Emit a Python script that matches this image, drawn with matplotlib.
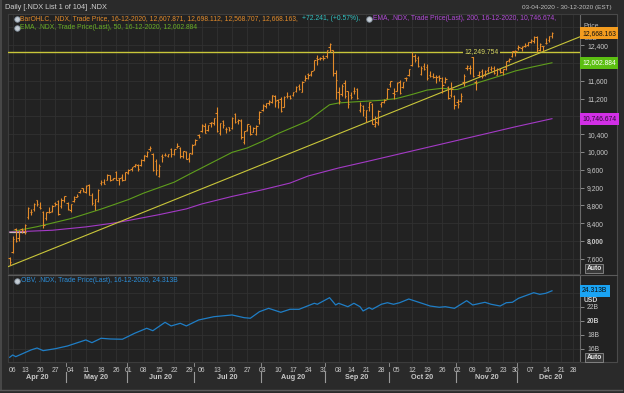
import numpy as np
import pandas as pd
import matplotlib.pyplot as plt
import matplotlib.transforms as mtransforms
from matplotlib.lines import Line2D
from matplotlib.patches import Rectangle

plt.rcParams['font.family'] = ['Liberation Sans', 'DejaVu Sans']

# ---- data ----
holidays = ['2020-04-10', '2020-05-25', '2020-07-03', '2020-09-07', '2020-11-26', '2020-12-25']

opens = [
    7613, 7746, 8260, 8060, 8260, 8215, 8530, 8640, 8720, 8920,
    8770, 8640, 8510, 8640, 8680, 8860, 8900, 8780, 8910,
    8850, 8690, 8900, 8990, 9090, 9190, 9090, 9250, 9040, 8800,
    8890, 9300, 9330, 9370, 9480, 9400, 9560, 9410, 9430, 9380,
    9520, 9620, 9690, 9710, 9700, 9820, 9900, 10060, 9960, 9800,
    9470, 9900, 9930, 9900, 10060, 9950, 10110, 10090, 9900, 10000,
    9860, 9960,
    10170, 10370, 10470, 10590, 10500, 10660, 10660, 10880, 10430, 10700,
    10510, 10560, 10530, 10860, 10690, 10700, 10230, 10500, 10590, 10450,
    10400, 10730,
    10950, 11030, 11110, 11130, 11250, 11170, 11180, 11020, 11250, 11250,
    11280, 11380, 11480, 11350, 11620, 11740, 11750, 11850, 12110, 12110,
    12150,
    12150, 12350, 12290, 11770, 11350, 11310, 11550, 11360, 11270, 11380,
    11420, 10940, 11040, 10780, 11020, 11080, 10590, 10650, 11080, 11130,
    11210,
    11520, 11330, 11370, 11560, 11460, 11650, 11720, 11950, 12160, 12100,
    11750, 11940, 11900, 11720, 11700, 11690, 11710, 11600, 11560, 11450,
    11270, 11260,
    11130, 11150, 11560, 11880, 11880, 12130, 11570, 11720, 11810, 11750,
    11830, 11860, 11890, 11730, 11850, 11800, 11900, 12060, 12150, 12260,
    12330, 12330, 12390, 12400, 12460, 12490, 12590, 12300, 12370, 12450,
    12510, 12607.871,
]
highs = [
    7650, 8100, 8280, 8240, 8300, 8370, 8760, 8720, 8860, 8930,
    8870, 8680, 8650, 8770, 8800, 8880, 8910, 8960, 9020,
    8870, 8840, 9010, 9060, 9150, 9200, 9260, 9290, 9080, 8950,
    9160, 9360, 9400, 9500, 9490, 9420, 9570, 9420, 9510, 9560,
    9610, 9660, 9730, 9730, 9850, 9930, 10020, 10130, 9980, 9830,
    9720, 9960, 9970, 9960, 10090, 10070, 10200, 10120, 10020, 10010,
    9980, 10180,
    10300, 10400, 10620, 10640, 10610, 10680, 10770, 11000, 10650, 10720,
    10560, 10570, 10790, 10870, 10740, 10730, 10480, 10630, 10610, 10570,
    10610, 10910,
    11080, 11110, 11170, 11290, 11270, 11190, 11230, 11250, 11340, 11280,
    11350, 11470, 11520, 11600, 11720, 11770, 11810, 12070, 12180, 12140,
    12180,
    12300, 12440, 12300, 11830, 11460, 11520, 11620, 11380, 11350, 11460,
    11440, 11130, 11060, 10950, 11130, 11100, 10800, 10940, 11130, 11200,
    11430,
    11600, 11440, 11570, 11620, 11580, 11690, 11860, 12250, 12200, 12150,
    11920, 11990, 11970, 11810, 11780, 11720, 11720, 11690, 11680, 11480,
    11560, 11290,
    11200, 11330, 11750, 11960, 11950, 12170, 11620, 11820, 11870, 11850,
    11910, 11930, 11940, 11880, 11880, 11870, 12050, 12110, 12270, 12290,
    12400, 12380, 12450, 12470, 12540, 12600, 12610, 12440, 12390, 12560,
    12600, 12698.112,
]
lows = [
    7450, 7730, 7970, 8000, 8170, 8160, 8500, 8580, 8680, 8780,
    8720, 8300, 8480, 8620, 8640, 8780, 8590, 8750, 8880,
    8700, 8640, 8880, 8980, 9070, 9110, 9080, 9030, 8800, 8700,
    8880, 9250, 9270, 9360, 9350, 9360, 9370, 9250, 9350, 9360,
    9510, 9580, 9650, 9580, 9680, 9800, 9890, 10030, 9580, 9490,
    9440, 9770, 9910, 9880, 9880, 9920, 10090, 9860, 9860, 9830,
    9780, 9960,
    10160, 10310, 10440, 10430, 10470, 10550, 10610, 10440, 10380, 10530,
    10420, 10460, 10510, 10660, 10620, 10290, 10170, 10480, 10390, 10440,
    10370, 10620,
    10930, 10990, 11060, 11100, 11000, 10990, 10900, 11010, 11210, 11180,
    11260, 11340, 11400, 11340, 11600, 11630, 11700, 11840, 11960, 12060,
    12060,
    12120, 12250, 11700, 11200, 11080, 11260, 11220, 10980, 11200, 11310,
    11200, 10890, 10810, 10680, 10930, 10620, 10560, 10600, 11010, 11090,
    11200,
    11460, 11200, 11360, 11300, 11440, 11590, 11700, 11940, 12020, 11900,
    11730, 11840, 11620, 11680, 11660, 11540, 11590, 11330, 11540, 11190,
    11240, 10960,
    10980, 11120, 11470, 11840, 11760, 11690, 11390, 11690, 11650, 11700,
    11790, 11820, 11760, 11720, 11780, 11730, 11850, 12020, 12140, 12160,
    12290, 12260, 12360, 12380, 12450, 12450, 12250, 12270, 12260, 12430,
    12470, 12568.707,
]
closes = [
    7528, 8052, 8001, 8232, 8238, 8356, 8750, 8654, 8838, 8833,
    8744, 8353, 8640, 8640, 8792, 8826, 8607, 8930, 9000,
    8718, 8834, 8949, 9010, 9138, 9121, 9232, 9030, 8863, 8943,
    9152, 9332, 9271, 9485, 9375, 9413, 9377, 9412, 9368, 9555,
    9598, 9654, 9720, 9616, 9825, 9925, 10003, 10094, 9590, 9588,
    9694, 9896, 9930, 9944, 9946, 10057, 10131, 9911, 10017, 9850,
    9975, 10157,
    10279, 10341, 10604, 10433, 10605, 10662, 10768, 10464, 10640, 10596,
    10520, 10503, 10767, 10680, 10707, 10333, 10462, 10617, 10402, 10543,
    10590, 10905,
    11055, 11094, 11142, 11276, 11139, 11130, 10912, 11231, 11261, 11220,
    11344, 11462, 11409, 11581, 11650, 11728, 11810, 12063, 12077, 12110,
    12110,
    12292, 12420, 11779, 11627, 11140, 11480, 11250, 11087, 11242, 11362,
    11211, 11062, 10936, 10938, 11117, 10633, 10672, 10914, 11117, 11168,
    11418,
    11583, 11291, 11555, 11332, 11565, 11669, 11853, 12147, 12065, 11937,
    11889, 11852, 11657, 11698, 11685, 11694, 11666, 11513, 11648, 11213,
    11419, 11052,
    11085, 11265, 11709, 11937, 11895, 11713, 11554, 11800, 11715, 11829,
    11900, 11883, 11763, 11863, 11789, 11856, 12036, 12094, 12258, 12268,
    12356, 12366, 12377, 12464, 12519, 12583, 12339, 12419, 12375, 12440,
    12595, 12668.163,
]

ema50_dates = ['2020-04-03', '2020-04-17', '2020-05-04', '2020-05-18', '2020-06-01', '2020-06-08',
               '2020-06-22', '2020-06-29', '2020-07-06', '2020-07-20', '2020-07-27', '2020-08-03',
               '2020-08-10', '2020-08-24', '2020-08-31', '2020-09-02', '2020-09-08', '2020-09-14',
               '2020-09-21', '2020-09-28', '2020-10-05', '2020-10-12', '2020-10-19', '2020-10-26',
               '2020-10-30', '2020-11-02', '2020-11-09', '2020-11-16', '2020-11-23', '2020-11-30',
               '2020-12-07', '2020-12-16']
ema50_values = [8200, 8320, 8500, 8715, 8930, 9075, 9320, 9500, 9640, 9990, 10090, 10240,
                10410, 10700, 10960, 11060, 11100, 11120, 11140, 11160, 11200, 11290, 11390, 11430,
                11400, 11405, 11520, 11625, 11730, 11820, 11900, 12002.884]

ema200_dates = ['2020-04-03', '2020-04-24', '2020-05-11', '2020-05-22', '2020-06-01', '2020-06-15',
                '2020-06-26', '2020-07-06', '2020-07-20', '2020-08-03', '2020-08-14', '2020-08-24',
                '2020-09-08', '2020-09-21', '2020-10-05', '2020-10-19', '2020-11-02', '2020-11-16',
                '2020-11-30', '2020-12-16']
ema200_values = [8200, 8240, 8315, 8400, 8460, 8590, 8720, 8830, 9000, 9150, 9300, 9460,
                 9640, 9780, 9940, 10100, 10260, 10420, 10565, 10746.674]

obv_dates = ['2020-04-03', '2020-04-06', '2020-04-07', '2020-04-15', '2020-04-17', '2020-04-21',
             '2020-04-27', '2020-05-01', '2020-05-11', '2020-05-13', '2020-05-18', '2020-05-21',
             '2020-05-28', '2020-06-03', '2020-06-09', '2020-06-11', '2020-06-17', '2020-06-19',
             '2020-06-24', '2020-06-26', '2020-07-02', '2020-07-10', '2020-07-20', '2020-07-24',
             '2020-07-28', '2020-07-31', '2020-08-05', '2020-08-11', '2020-08-14', '2020-08-19',
             '2020-08-26', '2020-08-27', '2020-09-02', '2020-09-04', '2020-09-08', '2020-09-11',
             '2020-09-15', '2020-09-17', '2020-09-18', '2020-09-22', '2020-09-23', '2020-09-28',
             '2020-09-30', '2020-10-02', '2020-10-06', '2020-10-09', '2020-10-16', '2020-10-20',
             '2020-10-23', '2020-10-27', '2020-10-30', '2020-11-05', '2020-11-09', '2020-11-13',
             '2020-11-17', '2020-11-20', '2020-11-24', '2020-11-27', '2020-12-01', '2020-12-08',
             '2020-12-10', '2020-12-14', '2020-12-16']
obv_values = [14.81, 15.14, 14.90, 15.86, 16.14, 15.76, 16.04, 16.43, 17.29, 16.90, 17.53, 17.43,
              17.39, 18.24, 18.96, 18.61, 19.81, 19.29, 19.67, 19.29, 20.14, 20.61, 20.86, 20.47,
              20.39, 21.33, 21.81, 21.24, 21.67, 21.67, 22.53, 22.39, 23.33, 22.29, 22.53, 22.04,
              22.53, 22.04, 21.43, 21.90, 21.67, 22.39, 22.61, 22.39, 22.61, 23.14, 22.43, 22.14,
              21.96, 22.04, 21.81, 22.90, 22.29, 22.67, 22.39, 22.14, 22.61, 22.67, 23.24, 24.04,
              23.81, 23.96, 24.313]

trend_dates = ['2020-04-03', '2020-12-11']
trend_values = [7436, 12252]
hline_value = 12249.754
start_line_dates = ['2020-04-03', '2020-04-13']
start_line_value = 8195

price_ticks = list(range(7600, 13000, 400))
price_hidden = [12800, 12000, 10800]   # covered by the value boxes in the chart
obv_ticks = [16, 18, 20, 22, 24]
obv_hidden = [24]

# ---- trading day axis ----
days = pd.bdate_range('2020-04-03', '2020-12-31')
days = days[~days.isin(pd.to_datetime(holidays))]
pos = {d: i for i, d in enumerate(days)}


def ix(dates):
    return np.array([pos[pd.Timestamp(d)] for d in dates])


W, H = 624, 393


def fx(x):
    return x / W


def fy(y):
    return 1 - y / H


BG = '#222222'
GRID = '#313131'
TXT = '#c8c8c8'
ORANGE = '#e38b2a'
FS = 4.85     # legend text
TFS = 4.9     # axis tick labels

fig = plt.figure(figsize=(6.24, 3.93), dpi=100, facecolor='#2a2a2a')
fig.add_artist(Rectangle((fx(7.5), fy(362)), (617 - 7.5) / W, (362 - 13.5) / H,
                         transform=fig.transFigure, fc=BG, ec='#4a4a4a', lw=0.8, zorder=-1))

ax = fig.add_axes([fx(8), fy(274), (580 - 8) / W, (274 - 14) / H], facecolor=BG)
ax2 = fig.add_axes([fx(8), fy(362), (580 - 8) / W, (362 - 275) / H], facecolor=BG)

xmin, xmax = -0.54, 187.2
for a in (ax, ax2):
    a.set_xlim(xmin, xmax)
    for s in a.spines.values():
        s.set_color('#3c3c3c')
        s.set_linewidth(0.8)
    a.spines['right'].set_color('#6a6a6a')
    a.yaxis.tick_right()
    a.grid(True, color=GRID, lw=0.6)
    a.set_axisbelow(True)
ax.set_ylim(7257, 13099)
ax2.set_ylim(14.14, 26.57)

# week ticks (first trading day of each week)
wk = pd.Series(np.arange(len(days)), index=days)
iso = days.isocalendar()
firsts = wk.groupby([iso.year.values, iso.week.values]).first()
week_idx = [int(v) for v in firsts.values if v > 0]
week_lbl = [days[i].strftime('%d') for i in week_idx]

ax.set_xticks(week_idx, labels=[])
ax.tick_params(axis='x', length=0)
ax2.set_xticks(week_idx, labels=week_lbl)
ax2.tick_params(axis='x', length=0, pad=3.5, labelsize=TFS, labelcolor=TXT)

ax.set_yticks(price_ticks, labels=['' if v in price_hidden else f'{v:,}' for v in price_ticks])
ax.tick_params(axis='y', length=3, width=0.6, color='#9a9a9a', labelcolor=TXT, labelsize=TFS, pad=2)
for t, v in zip(ax.get_yticklabels(), price_ticks):
    if v == 8000:
        t.set_fontweight('bold')
ax2.set_yticks(obv_ticks, labels=['' if v in obv_hidden else f'{v}B' for v in obv_ticks])
ax2.tick_params(axis='y', length=3, width=0.6, color='#9a9a9a', labelcolor=TXT, labelsize=TFS, pad=2)
for t, v in zip(ax2.get_yticklabels(), obv_ticks):
    if v == 20:
        t.set_fontweight('bold')

# ---- price panel ----
x = np.arange(len(closes))
ax.vlines(x, lows, highs, color=ORANGE, lw=0.8, zorder=4)
ax.hlines(opens, x - 0.45, x, color=ORANGE, lw=0.8, zorder=4)
ax.hlines(closes, x, x + 0.45, color=ORANGE, lw=0.8, zorder=4)

ax.plot(ix(ema50_dates), ema50_values, color='#5f9e1c', lw=0.8, zorder=3)
ax.plot(ix(ema200_dates), ema200_values, color='#a43ac6', lw=0.8, zorder=3)
tx = ix(trend_dates)
ax.axline((tx[0], trend_values[0]), (tx[1], trend_values[1]), color='#c9c63a', lw=0.8, zorder=3)
ax.axhline(hline_value, color='#c9c63a', lw=1.0, zorder=3)
sx = ix(start_line_dates)
ax.hlines(start_line_value, sx[0] - 0.3, sx[1] + 0.5, color='#c8b8bc', lw=0.9, zorder=3)
ax.text(155, hline_value, f'{hline_value:,.3f}', color='#d8d860', fontsize=TFS, ha='center',
        va='center', zorder=5, bbox=dict(boxstyle='square,pad=0.2', fc=BG, ec='none'))

# ---- OBV panel ----
ax2.plot(ix(obv_dates), obv_values, color='#1f7ec6', lw=0.9)

# ---- date axis extras ----
trans = mtransforms.blended_transform_factory(ax2.transData, fig.transFigure)
month_first = wk.groupby(days.month).first()
month_last = wk.groupby(days.month).last()
for m in month_first.index:
    a, b = month_first[m], month_last[m]
    ax2.text((a + b) / 2, fy(377.5), days[a].strftime('%b %y'), transform=trans, ha='center',
             va='center', fontsize=5.2, fontweight='bold', color=TXT, clip_on=False)
    if m != month_first.index[0]:
        ax2.add_line(Line2D([a - 0.5, a - 0.5], [fy(372), fy(382)], transform=trans, color='#9a9a9a',
                            lw=0.8, clip_on=False))
        ax2.add_line(Line2D([a - 0.5, a - 0.5], [fy(363), fy(365.5)], transform=trans, color='#9a9a9a',
                            lw=0.6, clip_on=False))

# ---- frame lines ----
fig.add_artist(Line2D([fx(7.5), fx(617)], [fy(274.5), fy(274.5)], transform=fig.transFigure,
                      color='#5a5a5a', lw=0.8))
fig.add_artist(Line2D([fx(1), fx(1)], [fy(0), fy(389.5)], transform=fig.transFigure,
                      color='#4e4e4e', lw=1.2))
fig.add_artist(Line2D([fx(0), fx(622)], [fy(389.5), fy(389.5)], transform=fig.transFigure,
                      color='#5a5a5a', lw=1.0))

# ---- header and legends ----
fig.text(fx(5), fy(7.5), 'Daily [.NDX List 1 of 104] .NDX', color='#d0d0d0', fontsize=5.3, va='center')
fig.text(fx(612), fy(7.5), '03-04-2020 - 30-12-2020 (EST)', color='#c0c0c0', fontsize=4.6,
         va='center', ha='right')

for xx, yy in ((16.5, 19), (16.5, 27.5), (16.5, 281), (368.5, 19)):
    fig.add_artist(Line2D([fx(xx)], [fy(yy)], marker='o', ms=4, mfc='#c4ccd4', mec='#7d8a96',
                          mew=0.6, transform=fig.transFigure))

fig.text(fx(20.5), fy(19), 'BarOHLC, .NDX, Trade Price, 16-12-2020, 12,607.871, 12,698.112, '
         '12,568.707, 12,668.163, ', color=ORANGE, fontsize=FS, va='center')
fig.text(fx(302.5), fy(19), '+72.241, (+0.57%), ', color='#33c2c2', fontsize=FS, va='center')
fig.text(fx(373), fy(19), 'EMA, .NDX, Trade Price(Last), 200, 16-12-2020, 10,746.674,',
         color='#b04ad6', fontsize=FS, va='center')
fig.text(fx(20.5), fy(27.5), 'EMA, .NDX, Trade Price(Last), 50, 16-12-2020, 12,002.884',
         color='#6aae26', fontsize=FS, va='center')
fig.text(fx(21), fy(281), 'OBV, .NDX, Trade Price(Last), 16-12-2020, 24.313B',
         color='#2c8fda', fontsize=FS, va='center')

# ---- right-hand value boxes ----
inv = fig.transFigure.inverted()


def fig_y(axis, v):
    return inv.transform(axis.transData.transform((0, v)))[1]


fig.text(fx(584), fy(26.5), 'Price', color='#b8b8b8', fontsize=TFS, va='center', zorder=4)
fig.text(fx(584), fy(38.5), 'USD', color='#b8b8b8', fontsize=TFS, va='center', zorder=4)
fig.text(fx(584), fy(300.5), 'USD', color='#d0d0d0', fontsize=TFS, va='center', fontweight='bold', zorder=4)

boxes = [(ax, closes[-1], f'{closes[-1]:,.3f}', '#f39c1f', '#111111'),
         (ax, ema50_values[-1], f'{ema50_values[-1]:,.3f}', '#5cbf12', '#ffffff'),
         (ax, ema200_values[-1], f'{ema200_values[-1]:,.3f}', '#d22fe6', '#2a0a30'),
         (ax2, obv_values[-1], f'{obv_values[-1]:.3f}B', '#1aa3f3', '#0a0a0a')]
for axis, v, lbl, fc, tc in boxes:
    fig.text(fx(582), fig_y(axis, v), lbl, color=tc, fontsize=TFS, va='center', ha='left', zorder=6,
             bbox=dict(boxstyle='square,pad=0.35', fc=fc, ec='none'))

for yy in (268.5, 357.5):
    fig.text(fx(586.5), fy(yy), 'Auto', color='#e6e6e6', fontsize=TFS, va='center', zorder=6,
             fontweight='bold', bbox=dict(boxstyle='square,pad=0.15', fc='#3a3a3a', ec='#8c8c8c', lw=0.6))

fig.savefig('out.png', dpi=100, facecolor=fig.get_facecolor())
